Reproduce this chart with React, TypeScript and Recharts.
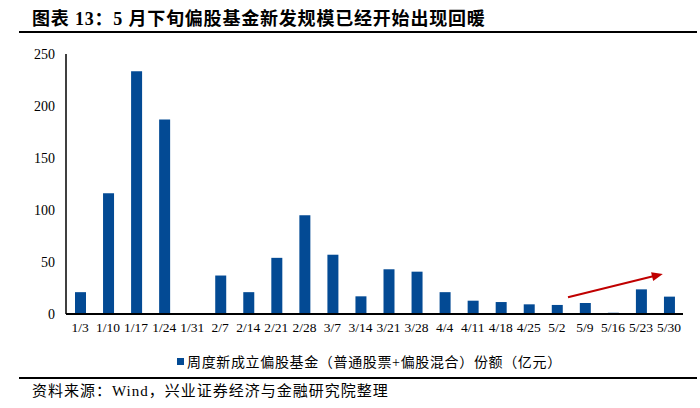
import React from 'react';
import { BarChart, Bar, XAxis, YAxis, Legend, ReferenceLine } from 'recharts';

const categories = [
  '1/3', '1/10', '1/17', '1/24', '1/31', '2/7', '2/14', '2/21', '2/28', '3/7', '3/14',
  '3/21', '3/28', '4/4', '4/11', '4/18', '4/25', '5/2', '5/9', '5/16', '5/23', '5/30',
];
const fundShares = [
  21, 116, 233.5, 187, 0, 37, 21, 54, 95, 57, 17,
  43, 40.7, 21, 12.8, 11.5, 9.3, 8.7, 10.6, 1.2, 23.7, 16.7,
];
const yTicks = [0, 50, 100, 150, 200, 250];
const seriesName = '周度新成立偏股基金（普通股票+偏股混合）份额（亿元）';
const arrowFrom = { x: '5/2', y: 13.5 };
const arrowTo = { x: '5/30', y: 40 };

const data = categories.map((d, i) => ({ date: d, value: fundShares[i] }));

const BAR = '#034A94';
const ARROW = '#C00000';
const serif = '"Liberation Serif", "Noto Sans CJK SC", serif';

// trend arrow, trimmed a bit at both ends like the original annotation
function ArrowShape(props: any) {
  const { x1, y1, x2, y2 } = props;
  if (x1 == null || x2 == null) return null;
  const sx = x1 + (x2 - x1) * 0.1;
  const sy = y1 + (y2 - y1) * 0.1;
  const ex = x1 + (x2 - x1) * 0.945;
  const ey = y1 + (y2 - y1) * 0.945;
  const len = Math.hypot(ex - sx, ey - sy);
  const ux = (ex - sx) / len;
  const uy = (ey - sy) / len;
  const head = 11;
  const half = 4.5;
  const bx = ex - ux * head;
  const by = ey - uy * head;
  const pts = `${ex},${ey} ${bx - uy * half},${by + ux * half} ${bx + uy * half},${by - ux * half}`;
  return (
    <g>
      <line x1={sx} y1={sy} x2={bx + ux * 1} y2={by + uy * 1} stroke={ARROW} strokeWidth={2} />
      <polygon points={pts} fill={ARROW} />
    </g>
  );
}

function LegendBox() {
  return (
    <div style={{ height: 20, display: 'flex', alignItems: 'center', paddingLeft: 177, fontFamily: serif, fontSize: 14, letterSpacing: 0.65, color: '#000' }}>
      <span style={{ display: 'inline-block', width: 7, height: 7, background: BAR, marginRight: 3 }} />
      <span>{seriesName}</span>
    </div>
  );
}

export default function App() {
  return (
    <div style={{ position: 'fixed', left: 0, top: 0, width: 700, height: 408, background: '#fff', overflow: 'hidden' }}>
      <div style={{ position: 'absolute', left: 32, top: 8, lineHeight: '22px', fontSize: 18, fontWeight: 700, letterSpacing: 0.8, fontFamily: serif, color: '#000', whiteSpace: 'nowrap' }}>
        图表 13：5 月下旬偏股基金新发规模已经开始出现回暖
      </div>
      <div style={{ position: 'absolute', left: 19, top: 31, width: 678, height: 1.5, background: '#000' }} />

      <BarChart width={700} height={408} data={data} margin={{ top: 54, right: 17, left: 0, bottom: 37 }}>
        <XAxis
          dataKey="date"
          interval={0}
          height={37}
          tickSize={0}
          tickMargin={8}
          tick={{ fontFamily: serif, fontSize: 13.5, fill: '#000' }}
          axisLine={{ stroke: '#000', strokeWidth: 2 }}
        />
        <YAxis
          width={66}
          domain={[0, 250]}
          ticks={yTicks}
          tickSize={0}
          tickMargin={11}
          tick={{ fontFamily: serif, fontSize: 14, fill: '#000' }}
          axisLine={{ stroke: '#000', strokeWidth: 1.5 }}
        />
        <Legend verticalAlign="bottom" content={<LegendBox />} />
        <Bar dataKey="value" name={seriesName} fill={BAR} barSize={11} isAnimationActive={false} />
        <ReferenceLine segment={[arrowFrom, arrowTo]} shape={ArrowShape} ifOverflow="visible" />
      </BarChart>

      <div style={{ position: 'absolute', left: 19, top: 377, width: 678, height: 1.5, background: '#000' }} />
      <div style={{ position: 'absolute', left: 32, top: 381, lineHeight: '20px', fontSize: 15, letterSpacing: 1, fontFamily: serif, color: '#000', whiteSpace: 'nowrap' }}>
        资料来源：Wind，兴业证券经济与金融研究院整理
      </div>
    </div>
  );
}
